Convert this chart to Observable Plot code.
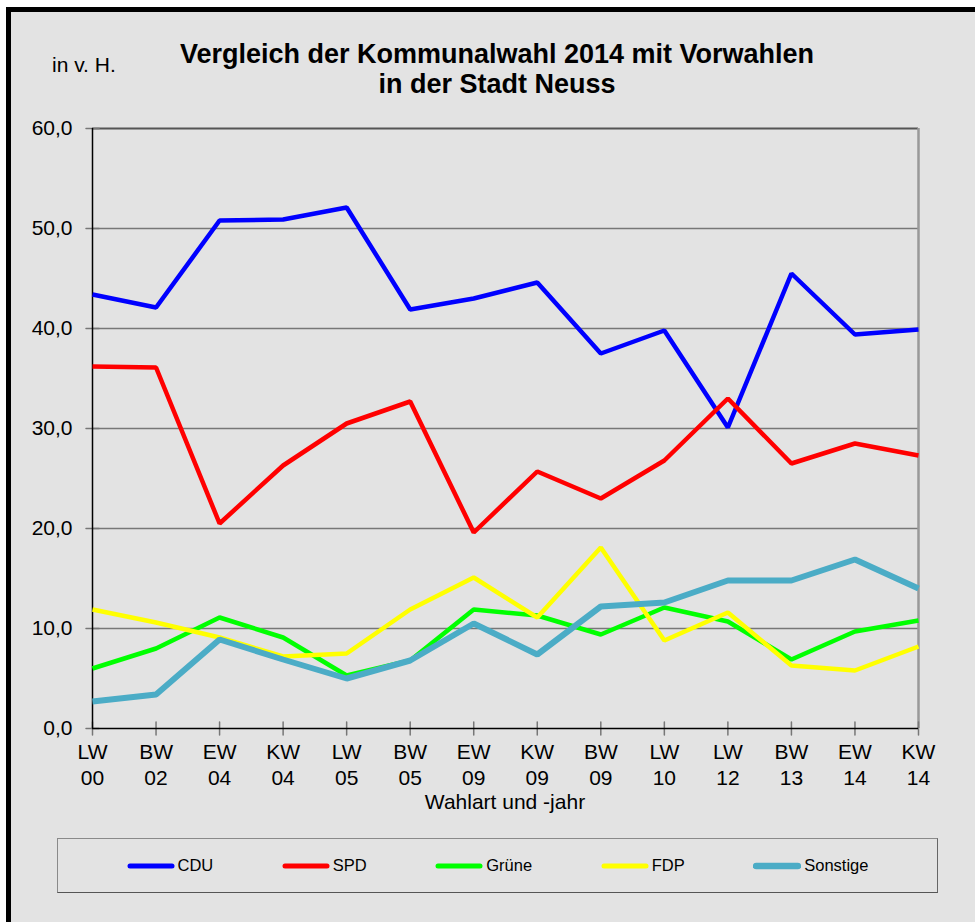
<!DOCTYPE html>
<html>
<head>
<meta charset="utf-8">
<script src="https://cdn.jsdelivr.net/npm/d3@7"></script>
<script src="https://cdn.jsdelivr.net/npm/@observablehq/plot@0.6"></script>
<style>
  html, body { margin: 0; padding: 0; background: #fff; }
  #wrap { position: relative; width: 975px; height: 922px; background: #fff; overflow: hidden;
          font-family: "Liberation Sans", Arial, sans-serif; color: #000; }
  #frame { position: absolute; left: 6px; top: 7px; width: 1000px; height: 1000px;
           border-left: 5px solid #000; border-top: 5px solid #000; background: #e3e3e3; }
  #chart { position: absolute; left: 0; top: 0; }
  #title { position: absolute; left: 0; top: 39px; width: 994px; text-align: center;
           font-weight: bold; font-size: 27px; line-height: 30px; }
  #unit { position: absolute; left: 52px; top: 54px; font-size: 21px; line-height: 21px; }
  #xlabel { position: absolute; left: 0; width: 1010px; top: 793px; text-align: center;
            font-size: 21px; line-height: 18px; }
  #legend { position: absolute; left: 57px; top: 838px; width: 879px; height: 53px;
            border: 1px solid #8a8a8a; border-bottom-color: #555; border-right-color: #666;
            display: flex; justify-content: space-evenly; align-items: center; }
  .item { display: flex; align-items: center; font-size: 16.5px; }
  .item svg { display: block; margin-right: 3px; }
</style>
</head>
<body>
<div id="wrap">
  <div id="frame"></div>
  <div id="title"></div>
  <div id="unit"></div>
  <div id="chart"></div>
  <div id="xlabel"></div>
  <div id="legend"></div>
</div>
<script>
// ---- data ----
const titleLines = ["Vergleich der Kommunalwahl 2014 mit Vorwahlen", "in der Stadt Neuss"];
const unitLabel = "in v. H.";
const xAxisLabel = "Wahlart und -jahr";
const electionTypes = ["LW","BW","EW","KW","LW","BW","EW","KW","BW","LW","LW","BW","EW","KW"];
const electionYears = ["00","02","04","04","05","05","09","09","09","10","12","13","14","14"];
const yTicks = [0, 10, 20, 30, 40, 50, 60];
const partyNames = ["CDU", "SPD", "Grüne", "FDP", "Sonstige"];
const partyColors = ["#0000ff", "#ff0000", "#00ff00", "#ffff00", "#4bacc6"];
const cdu      = [43.4, 42.1, 50.8, 50.9, 52.1, 41.9, 43.0, 44.6, 37.5, 39.8, 30.1, 45.5, 39.4, 39.9];
const spd      = [36.2, 36.1, 20.5, 26.3, 30.5, 32.7, 19.6, 25.7, 23.0, 26.8, 33.0, 26.5, 28.5, 27.3];
const gruene   = [ 6.0,  8.0, 11.1,  9.1,  5.3,  6.8, 11.9, 11.3,  9.4, 12.1, 10.7,  6.9,  9.7, 10.8];
const fdp      = [11.9, 10.6,  9.1,  7.2,  7.5, 11.9, 15.1, 11.1, 18.1,  8.8, 11.6,  6.3,  5.8,  8.2];
const sonstige = [ 2.7,  3.4,  8.9,  6.9,  5.0,  6.8, 10.5,  7.4, 12.2, 12.6, 14.8, 14.8, 16.9, 14.0];
const seriesValues = [cdu, spd, gruene, fdp, sonstige];

// ---- build ----
const cats = electionTypes.map((t, i) => `${t}\n${electionYears[i]}`);
const fmt = d => d3.format(".1f")(d).replace(".", ",");
const widths = partyNames.map(n => n === "Sonstige" ? 6 : 4.5);

const tickShape = { draw(ctx, l) { ctx.moveTo(0, 0); ctx.lineTo(0, -l); } };

const lineMarks = partyNames.map((name, k) =>
  Plot.line(cats.map((c, i) => ({x: c, y: seriesValues[k][i]})), {
    x: "x", y: "y", stroke: partyColors[k], strokeWidth: widths[k],
    strokeLinejoin: "miter", strokeLinecap: "butt"
  })
);

const chart = Plot.plot({
  width: 975, height: 922,
  marginLeft: 92, marginRight: 57, marginTop: 128, marginBottom: 194,
  x: {type: "point", domain: cats, padding: 0, round: false},
  y: {domain: [0, 60]},
  style: {background: "transparent", fontFamily: "'Liberation Sans', Arial, sans-serif", fontSize: "21px", color: "#000", overflow: "visible"},
  marks: [
    Plot.ruleY(yTicks.filter(t => t > 0 && t < 60), {stroke: "#777", strokeWidth: 1.5}),
    Plot.ruleY([60], {stroke: "#555", strokeWidth: 2}),
    Plot.ruleX([cats[cats.length - 1]], {stroke: "#999", strokeWidth: 2.5}),
    Plot.vector(yTicks, {x: () => cats[0], y: d => d, length: 13, rotate: 90, anchor: "middle", shape: tickShape, stroke: "#777", strokeWidth: 1.5}),
    Plot.vector(cats, {x: d => d, y: () => 0, length: 13, rotate: 0, anchor: "middle", shape: tickShape, stroke: "#777", strokeWidth: 1.5}),
    Plot.ruleX([cats[0]], {stroke: "#000", strokeWidth: 1.5}),
    Plot.ruleY([0], {stroke: "#000", strokeWidth: 1.5}),
    ...lineMarks,
    Plot.axisY({ticks: yTicks, tickSize: 0, tickPadding: 20, tickFormat: fmt, label: null}),
    Plot.axisX({tickSize: 0, tickPadding: 13, lineHeight: 1.2, label: null})
  ]
});
document.getElementById("chart").appendChild(chart);

document.getElementById("title").innerHTML = titleLines.join("<br>");
document.getElementById("unit").textContent = unitLabel;
document.getElementById("xlabel").textContent = xAxisLabel;

const legend = document.getElementById("legend");
partyNames.forEach((name, k) => {
  const item = document.createElement("div");
  item.className = "item";
  const sw = widths[k] + 0.5;
  item.innerHTML = `<svg width="48" height="10"><line x1="3" y1="5" x2="45" y2="5" stroke="${partyColors[k]}" stroke-width="${sw}" stroke-linecap="round"/></svg><span>${name}</span>`;
  legend.appendChild(item);
});
</script>
</body>
</html>
